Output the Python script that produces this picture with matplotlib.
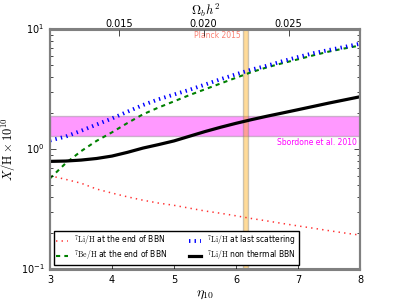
import matplotlib; matplotlib.use("Agg")
import matplotlib.pyplot as plt
import numpy as np

plt.style.use("classic")
plt.rcParams["mathtext.fontset"] = "cm"
plt.rcParams["font.family"] = "DejaVu Sans"

# values
eta = [3.0, 3.25, 3.5, 3.75, 4.0, 4.25, 4.5, 4.75, 5.0, 5.25, 5.5,
       5.75, 6.0, 6.25, 6.5, 6.75, 7.0, 7.25, 7.5, 7.75, 8.0]
li_end = [0.60, 0.56, 0.52, 0.465, 0.43, 0.40, 0.375, 0.355, 0.34, 0.322, 0.305,
          0.292, 0.278, 0.264, 0.252, 0.24, 0.229, 0.219, 0.209, 0.20, 0.192]
be_end = [0.57, 0.76, 0.96, 1.17, 1.38, 1.65, 1.95, 2.22, 2.5, 2.82, 3.15,
          3.52, 3.93, 4.38, 4.8, 5.2, 5.6, 6.05, 6.5, 6.9, 7.3]
li_ls = [1.18, 1.27, 1.42, 1.6, 1.8, 2.05, 2.33, 2.6, 2.85, 3.12, 3.45,
         3.82, 4.2, 4.6, 4.95, 5.4, 5.85, 6.3, 6.7, 7.1, 7.55]
li_nt = [0.79, 0.795, 0.81, 0.835, 0.875, 0.94, 1.02, 1.09, 1.17, 1.28, 1.40,
         1.52, 1.64, 1.76, 1.88, 2.0, 2.13, 2.27, 2.42, 2.57, 2.73]

sbordone = (1.28, 1.88)       # Li/H x 1e10
planck_eta = (6.11, 6.19)     # eta_10 band
omega_ticks = [0.015, 0.020, 0.025]
ETA_PER_OMEGA = 273.9

fig = plt.figure(figsize=(4, 3), dpi=100, facecolor="white")
ax = fig.add_subplot(111)
ax.set_position([0.125, 0.103, 0.775, 0.8])

ax.plot(eta, li_end, ":", color="#ff3030", lw=1.1, label=r"$^7{\rm Li/H}$ at the end of BBN")
ax.plot(eta, be_end, "--", color="green", lw=1.5, dashes=(3, 3),
        label=r"$^7{\rm Be/H}$ at the end of BBN")
ax.plot(eta, li_ls, ":", color="blue", lw=2.8, label=r"$^7{\rm Li/H}$ at last scattering")
ax.plot(eta, li_nt, "-", color="black", lw=2.3, label=r"$^7{\rm Li/H}$ non thermal BBN")

ax.axhspan(*sbordone, facecolor="magenta", alpha=0.4, edgecolor="gray", lw=1)
ax.axvspan(*planck_eta, facecolor="orange", alpha=0.4, edgecolor="gray", lw=1)
ax.text(planck_eta[0] - 0.03, 8.8, "Planck 2015", color="salmon", fontsize=5.5,
        ha="right", va="center")
ax.text(7.95, 1.13, "Sbordone et al. 2010", color="magenta", fontsize=5.5,
        ha="right", va="center")

ax.set_yscale("log")
ax.set_xlim(3, 8)
ax.set_ylim(0.1, 10)
ax.set_xticks([3, 4, 5, 6, 7, 8])
ax.set_xlabel(r"$\eta_{10}$", fontsize=10, labelpad=2)
ax.set_ylabel(r"$X/{\rm H}\times 10^{10}$", fontsize=9, labelpad=2)
ax.tick_params(labelsize=7, which="both", direction="in")
ax.tick_params(axis="x", top=False)
for s in ax.spines.values():
    s.set_color("gray"); s.set_linewidth(1.5)

ax2 = ax.twiny()
ax2.set_xlim(3 / ETA_PER_OMEGA, 8 / ETA_PER_OMEGA)
ax2.set_xticks(omega_ticks)
ax2.set_xticklabels(["%.3f" % t for t in omega_ticks])
ax2.tick_params(labelsize=7, direction="in", pad=1)
ax2.set_xlabel(r"$\Omega_b h^2$", fontsize=9, labelpad=3)
for s in ax2.spines.values():
    s.set_color("gray"); s.set_linewidth(1.5)

ax.legend(loc="lower left", ncol=2, fontsize=5.5, frameon=True, borderaxespad=0.5,
          handlelength=1.5, handletextpad=0.9, columnspacing=2.8, labelspacing=0.0,
          borderpad=0.3, numpoints=1)

fig.savefig("out.png", dpi=100, facecolor="white")
